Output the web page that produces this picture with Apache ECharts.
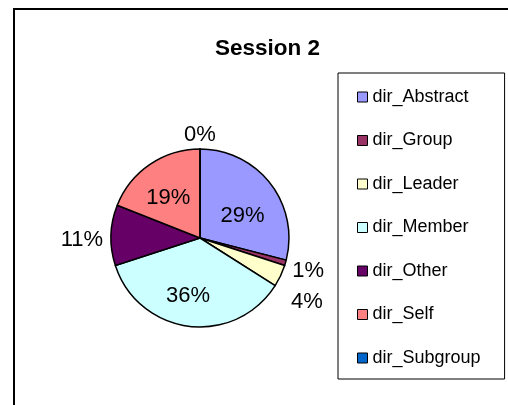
<!DOCTYPE html>
<html>
<head>
<meta charset="utf-8">
<script src="https://cdn.jsdelivr.net/npm/echarts@6/dist/echarts.min.js"></script>
<style>
html,body{margin:0;padding:0;background:#fff;}
#chart{width:508px;height:405px;}
</style>
</head>
<body>
<div id="chart"></div>
<script>
const title = 'Session 2';
const categories = ['dir_Abstract','dir_Group','dir_Leader','dir_Member','dir_Other','dir_Self','dir_Subgroup'];
const values = [29, 1, 4, 36, 11, 19, 0];
const colors = ['#9999FF','#993366','#FFFFCC','#CCFFFF','#660066','#FF8080','#0066CC'];
const labelPlace = ['inside','outside','outside','inside','outside','inside','outside'];
// label nudges (style only, in px)
const labelNudge = [[5,7],[-6,6],[-2,23],[-6,11],[5,5],[-5,-1],[7,-8]];

const FONT = 'Liberation Sans, Arial, sans-serif';
const chart = echarts.init(document.getElementById('chart'), null, {renderer:'canvas'});

const data = categories.map((c, i) => ({
  name: c,
  value: values[i],
  itemStyle: {color: colors[i]},
  label: {position: labelPlace[i]}
}));

chart.setOption({
  backgroundColor: '#fff',
  animation: false,
  title: {
    text: title, left: 210, top: 32,
    textStyle: {fontFamily: FONT, fontSize: 22.5, fontWeight: 'bold', color: '#000'}
  },
  graphic: [{
    type: 'rect', z: -1, silent: true,
    shape: {x: 14, y: 9, width: 520, height: 420},
    style: {fill: 'none', stroke: '#000', lineWidth: 2}
  }],
  legend: {
    orient: 'vertical', left: 338, top: 73,
    backgroundColor: '#fff', borderColor: '#000', borderWidth: 1,
    padding: [15, 24, 12, 19],
    itemWidth: 10, itemHeight: 10, itemGap: 25.5,
    icon: 'rect',
    itemStyle: {borderColor: '#000', borderWidth: 1},
    textStyle: {fontFamily: FONT, fontSize: 18, color: '#000'},
    data: categories
  },
  series: [{
    type: 'pie',
    center: [200, 238],
    radius: [0, 89],
    startAngle: 90,
    clockwise: true,
    percentPrecision: 0,
    avoidLabelOverlap: false,
    data: data,
    itemStyle: {borderColor: '#000', borderWidth: 1.5},
    label: {
      formatter: '{d}%',
      fontFamily: FONT, fontSize: 22, color: '#000'
    },
    labelLine: {show: false, length: 6, length2: 2},
    labelLayout: function (p) {
      const n = labelNudge[p.dataIndex];
      const o = {dx: n[0], dy: n[1], hideOverlap: false, moveOverlap: false};
      if (p.dataIndex === 6) o.align = 'center';
      return o;
    },
    emphasis: {disabled: true}
  }]
});
</script>
</body>
</html>
